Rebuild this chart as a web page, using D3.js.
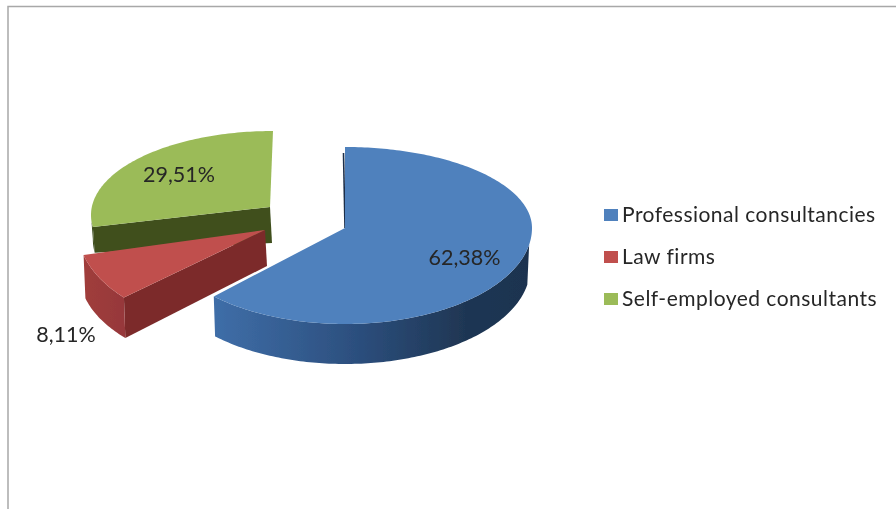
<!DOCTYPE html>
<meta charset="utf-8">
<style>
html, body { margin: 0; padding: 0; background: #fff; }
svg { display: block; }
text { font-family: Lato, "Open Sans", sans-serif; fill: #262626; }
</style>
<svg width="896" height="509"></svg>
<script src="https://d3js.org/d3.v7.min.js"></script>
<script>
var categories = ["Professional consultancies", "Law firms", "Self-employed consultants"];
var values = [62.38, 8.11, 29.51];
var colors = ["#4f81bd", "#c0504d", "#9bbb59"];

var width = 896, height = 509;
var svg = d3.select("svg");

// soft blur, the reference is a scanned looking picture
var defs = svg.append("defs");
defs.append("filter").attr("id", "soft")
    .append("feGaussianBlur").attr("stdDeviation", 0.6);

function wallGradient(id, stops) {
    var g = defs.append("linearGradient").attr("id", id);
    stops.forEach(function(s) {
        g.append("stop").attr("offset", s[0]).attr("stop-color", s[1]);
    });
    return "url(#" + id + ")";
}

// every exploded slice sits on its own ellipse, the fake perspective makes them differ
var lowFront = 96;
var shapes = [
    {cx: 345, cy: 228, apexX: 345, apexY: 228, rx: 187, back: 81, front: 96, depth: 40, apexDepth: 40, startAdj: 0, endAdj: 0,
     wall: wallGradient("wallBlue", [[0, "#3f6ea8"], [0.45, "#2c4f7e"], [0.8, "#1f3653"], [1, "#1d3350"]]), cut: "#1c2f4a"},
    {cx: 265, cy: 230, apexX: 265, apexY: 230, rx: 187, back: 81, front: 103, depth: 45, apexDepth: 36, startAdj: 4.4, endAdj: 2.2,
     wall: wallGradient("wallRed", [[0, "#a03d3b"], [1, "#96383a"]]), cut: "#7b2b2a"},
    {cx: 273, cy: 215, apexX: 270, apexY: 207, rx: 182, back: 84, front: 84, depth: 24, apexDepth: 36, startAdj: 8, endAdj: 0,
     wall: "#3f4f1f", cut: "#3f4f1f"}
];

var pie = d3.pie().sort(null);
var arcs = pie(values);

function point(s, deg, bottom) {
    var a = deg * Math.PI / 180;
    var sin = Math.sin(a), cos = Math.cos(a);
    if (bottom) {
        return [s.cx + s.rx * 0.99 * sin, s.cy + s.depth - lowFront * cos];
    }
    return [s.cx + s.rx * sin, s.cy - cos * (cos > 0 ? s.back : s.front)];
}

var line = d3.line();
var deg = d3.scaleLinear().domain([0, 2 * Math.PI]).range([0, 360]);

function sweep(from, to) {
    return d3.range(from, to, 1).concat([to]);
}

var pieG = svg.append("g").attr("filter", "url(#soft)");

// back to front: green, red, blue
[2, 1, 0].forEach(function(i) {
    var s = shapes[i];
    var start = deg(arcs[i].startAngle) + s.startAdj;
    var end = deg(arcs[i].endAngle) + s.endAdj;
    var g = pieG.append("g").attr("class", "slice");

    // cut face, seen only on the two exploded slices
    if (i > 0) {
        g.append("path").attr("fill", s.cut).attr("d", line([
            [s.apexX, s.apexY], point(s, start), point(s, start, true),
            [s.apexX + 2, s.apexY + s.apexDepth]
        ]) + "Z");
    }

    // outer wall for the part of the rim turned to the viewer
    var wFrom = Math.max(start, 100), wTo = Math.min(end, 270);
    if (wTo > wFrom) {
        var rim = sweep(wFrom, wTo);
        g.append("path").attr("fill", s.wall).attr("d", line(
            rim.map(function(d) { return point(s, d); })
               .concat(rim.slice().reverse().map(function(d) { return point(s, d, true); }))
        ) + "Z");
    }

    // thin dark sliver of the blue slice's back cut
    if (i == 0) {
        g.append("path").attr("d", line([[s.apexX, s.apexY], [s.apexX - 1.5, s.apexY - s.back + 6]]))
            .attr("stroke", s.cut).attr("stroke-width", 1.6).attr("fill", "none");
    }

    var outline = sweep(start, end).map(function(d) { return point(s, d); });
    g.append("path").attr("fill", colors[i])
        .attr("d", line([[s.apexX, s.apexY]].concat(outline)) + "Z");
});

// chart frame, cut by the right and bottom of the picture
svg.append("path")
    .attr("d", line([[8, height], [8, 6.5], [width, 6.5]]))
    .attr("fill", "none").attr("stroke", "#a8a8a8").attr("stroke-width", 1.5);

function pct(v) { return v.toFixed(2).replace(".", ",") + "%"; }

var labelX = [464.5, 66, 179];
var labelY = [265, 342, 182];
var textG = svg.append("g").attr("filter", "url(#soft)");
textG.selectAll("text.value").data(values).enter().append("text")
    .attr("class", "value")
    .attr("x", function(d, i) { return labelX[i]; })
    .attr("y", function(d, i) { return labelY[i]; })
    .attr("text-anchor", "middle")
    .style("font-size", "21.5px")
    .text(pct);

var legendY = d3.scalePoint().domain(categories).range([215, 299]);
var legend = textG.selectAll("g.legend").data(categories).enter().append("g")
    .attr("class", "legend")
    .attr("transform", function(d) { return "translate(604," + legendY(d) + ")"; });
legend.append("rect")
    .attr("x", 0).attr("y", -6).attr("width", 14).attr("height", 12)
    .attr("fill", function(d, i) { return colors[i]; });
legend.append("text")
    .attr("x", 18).attr("y", 7)
    .style("font-size", "21px")
    .style("letter-spacing", "0.48px")
    .text(function(d) { return d; });
</script>
